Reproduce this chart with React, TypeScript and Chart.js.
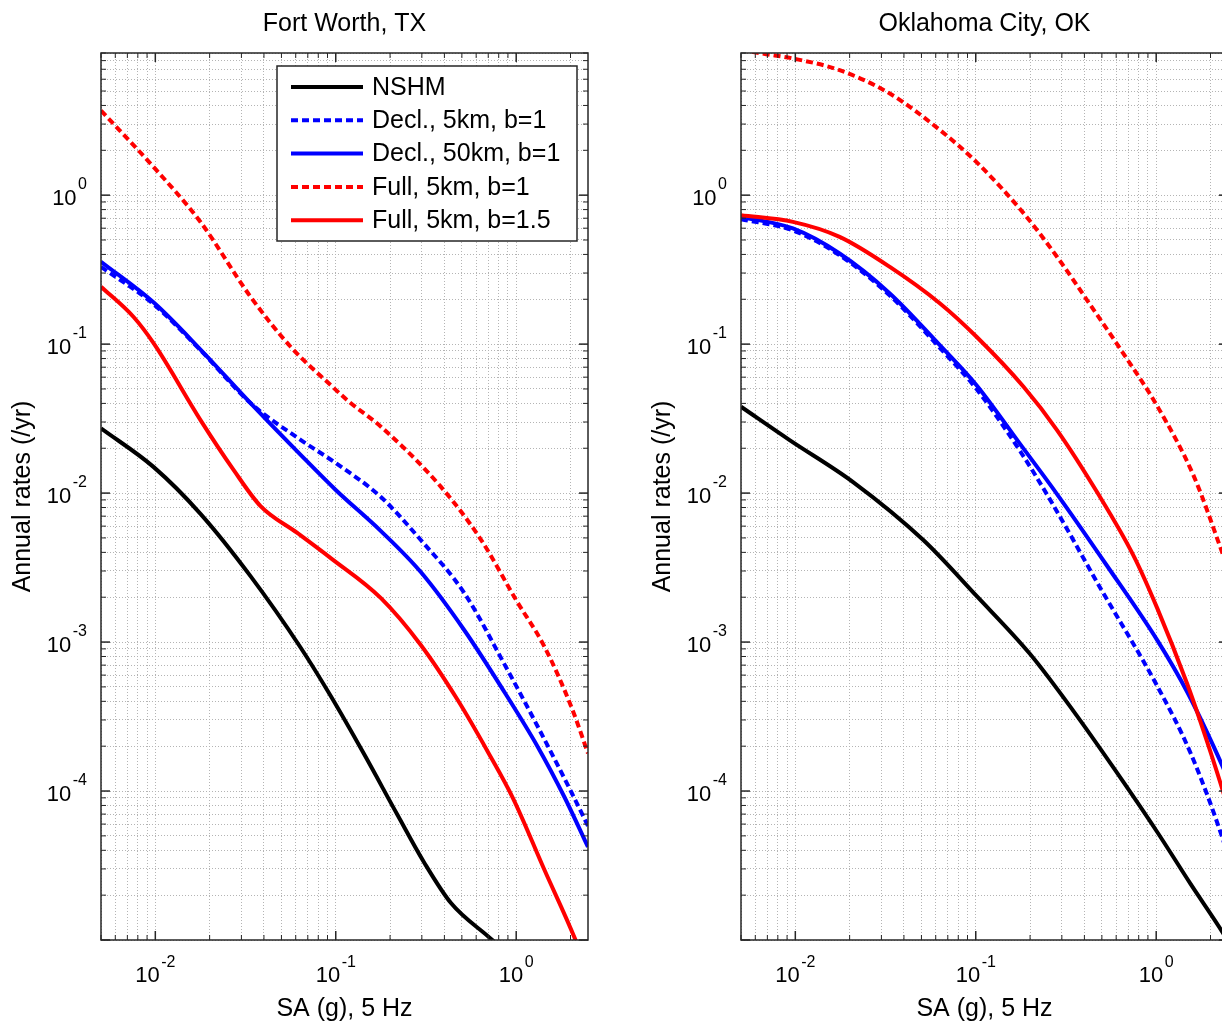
import React, { useEffect, useRef } from 'react';
import { Chart, registerables } from 'chart.js';

Chart.register(...registerables);

const FONT = "'Liberation Sans', Arial, Helvetica, sans-serif";

// ---- axes ----
const X_MIN = 0.005;
const X_MAX = 2.5;
const Y_MIN = 1e-5;
const Y_MAX = 9;
const X_LABEL_EXPONENTS = [-2, -1, 0];
const Y_LABEL_EXPONENTS = [-4, -3, -2, -1, 0];
const X_TITLE = 'SA (g), 5 Hz';
const Y_TITLE = 'Annual rates (/yr)';
const TITLES = ['Fort Worth, TX', 'Oklahoma City, OK'];
const SERIES_LABELS = ['NSHM', 'Decl., 5km, b=1', 'Decl., 50km, b=1', 'Full, 5km, b=1', 'Full, 5km, b=1.5'];

// ---- Fort Worth, TX ----
const fwNshmX = [0.005, 0.0098, 0.0178, 0.0337, 0.0641, 0.0938, 0.1435, 0.22, 0.31, 0.435, 0.697, 0.82];
const fwNshmY = [0.0272, 0.01494, 0.00726, 0.00277, 0.000912, 0.000434, 0.000177, 0.000069, 0.0000329, 0.0000177, 0.0000106, 0.00000897];
const fwDecl5X = [0.005, 0.0098, 0.0178, 0.0337, 0.0641, 0.1, 0.178, 0.296, 0.516, 0.86, 1.32, 2.02, 2.5];
const fwDecl5Y = [0.33, 0.185, 0.091, 0.0402, 0.0227, 0.0159, 0.0094, 0.00484, 0.00213, 0.000711, 0.000269, 0.0000985, 0.0000582];
const fwDecl50X = [0.005, 0.0098, 0.0178, 0.0337, 0.0641, 0.1, 0.178, 0.296, 0.516, 0.86, 1.32, 1.85, 2.5];
const fwDecl50Y = [0.357, 0.19, 0.092, 0.0402, 0.018, 0.0105, 0.00556, 0.00295, 0.0012, 0.000462, 0.000197, 0.0000912, 0.0000421];
const fwFull1X = [0.005, 0.01, 0.0178, 0.0337, 0.0562, 0.0938, 0.1186, 0.178, 0.383, 0.64, 1.0, 1.435, 2.02, 2.5];
const fwFull1Y = [3.7, 1.5, 0.66, 0.208, 0.096, 0.053, 0.041, 0.0279, 0.011, 0.00484, 0.00191, 0.00093, 0.000368, 0.000179];
const fwFull15X = [0.005, 0.00758, 0.0098, 0.0178, 0.0272, 0.0383, 0.0612, 0.0938, 0.178, 0.296, 0.474, 0.697, 0.959, 1.435, 2.11, 2.4];
const fwFull15Y = [0.243, 0.152, 0.101, 0.0309, 0.01426, 0.00818, 0.0054, 0.00366, 0.00197, 0.000955, 0.000408, 0.000183, 0.0000897, 0.0000295, 0.0000103, 0.0000068];

// ---- Oklahoma City, OK ----
const okNshmX = [0.005, 0.0093, 0.0209, 0.0512, 0.101, 0.2, 0.348, 0.581, 1.013, 1.55, 2.33, 2.5];
const okNshmY = [0.038, 0.0227, 0.01186, 0.00484, 0.00204, 0.000831, 0.000344, 0.000143, 0.0000531, 0.0000238, 0.0000113, 0.0000098];
const okDecl5X = [0.005, 0.0097, 0.0176, 0.0334, 0.0634, 0.101, 0.1763, 0.259, 0.491, 1.013, 1.55, 2.33, 2.5];
const okDecl5Y = [0.69, 0.58, 0.395, 0.212, 0.094, 0.0499, 0.0191, 0.00897, 0.0023, 0.000507, 0.00018, 0.0000484, 0.0000366];
const okDecl50X = [0.005, 0.0097, 0.0176, 0.0334, 0.0634, 0.101, 0.1763, 0.282, 0.535, 1.013, 1.486, 2.33, 2.5];
const okDecl50Y = [0.715, 0.598, 0.406, 0.219, 0.098, 0.053, 0.0213, 0.00985, 0.00324, 0.00103, 0.000462, 0.000147, 0.00012];
const okFull1X = [0.005, 0.0069, 0.0097, 0.0176, 0.0334, 0.0634, 0.101, 0.184, 0.282, 0.432, 0.661, 1.013, 1.62, 2.33, 2.5];
const okFull1Y = [9.4, 8.84, 8.27, 6.9, 4.81, 2.73, 1.665, 0.757, 0.386, 0.183, 0.0857, 0.0384, 0.0129, 0.00394, 0.0031];
const okFull15X = [0.005, 0.0097, 0.0176, 0.0334, 0.0634, 0.101, 0.184, 0.282, 0.47, 0.751, 1.013, 1.486, 1.762, 2.33, 2.5];
const okFull15Y = [0.734, 0.662, 0.525, 0.33, 0.1875, 0.112, 0.0517, 0.0265, 0.01016, 0.00378, 0.00169, 0.000523, 0.00029, 0.000102, 0.0000757];

const COLORS = ['#000000', '#0000ff', '#0000ff', '#ff0000', '#ff0000'];
const DASHED = [false, true, false, true, false];

const PANELS = [
  { xs: [fwNshmX, fwDecl5X, fwDecl50X, fwFull1X, fwFull15X], ys: [fwNshmY, fwDecl5Y, fwDecl50Y, fwFull1Y, fwFull15Y], legend: true },
  { xs: [okNshmX, okDecl5X, okDecl50X, okFull1X, okFull15X], ys: [okNshmY, okDecl5Y, okDecl50Y, okFull1Y, okFull15Y], legend: false },
];

function decadeTicks(lo: number, hi: number): number[] {
  const out: number[] = [];
  for (let e = Math.floor(Math.log10(lo)); e <= Math.ceil(Math.log10(hi)); e++) {
    for (let m = 1; m <= 9; m++) {
      const v = parseFloat((m * Math.pow(10, e)).toPrecision(6));
      if (v >= lo * 0.999999 && v <= hi * 1.000001) out.push(v);
    }
  }
  return out;
}
const X_TICKS = decadeTicks(X_MIN, X_MAX);
const Y_TICKS = decadeTicks(Y_MIN, Y_MAX);

function isDecade(v: number) {
  const l = Math.log10(v);
  return Math.abs(l - Math.round(l)) < 1e-6;
}

const BASE_FONT = `22px ${FONT}`;
const EXP_FONT = `16px ${FONT}`;

// MATLAB-like frame with inward ticks on all four sides
const framePlugin = {
  id: 'matlabFrame',
  afterDatasetsDraw(chart: any) {
    const { ctx, chartArea: a, scales } = chart;
    ctx.save();
    ctx.strokeStyle = '#262626';
    ctx.setLineDash([]);
    const seg = (x1: number, y1: number, x2: number, y2: number) => {
      ctx.beginPath();
      ctx.moveTo(x1, y1);
      ctx.lineTo(x2, y2);
      ctx.stroke();
    };
    X_TICKS.forEach((v) => {
      const x = scales.x.getPixelForValue(v);
      const L = isDecade(v) ? 9 : 5;
      ctx.lineWidth = isDecade(v) ? 1.5 : 1;
      seg(x, a.bottom, x, a.bottom - L);
      seg(x, a.top, x, a.top + L);
    });
    Y_TICKS.forEach((v) => {
      const y = scales.y.getPixelForValue(v);
      const L = isDecade(v) ? 9 : 5;
      ctx.lineWidth = isDecade(v) ? 1.5 : 1;
      seg(a.left, y, a.left + L, y);
      seg(a.right, y, a.right - L, y);
    });
    ctx.lineWidth = 1.5;
    ctx.strokeRect(a.left, a.top, a.right - a.left, a.bottom - a.top);
    ctx.restore();
  },
};

// "10" with a raised exponent, placed through the scales
const decadeLabelPlugin = {
  id: 'decadeLabels',
  afterDraw(chart: any) {
    const { ctx, chartArea: a, scales } = chart;
    ctx.save();
    ctx.fillStyle = '#000000';
    ctx.textBaseline = 'alphabetic';
    ctx.textAlign = 'left';
    X_LABEL_EXPONENTS.forEach((e) => {
      const x = scales.x.getPixelForValue(Math.pow(10, e));
      const exp = String(e);
      ctx.font = BASE_FONT;
      const wb = ctx.measureText('10').width;
      ctx.font = EXP_FONT;
      const we = ctx.measureText(exp).width;
      const x0 = x - (wb + 1.5 + we) / 2;
      ctx.font = BASE_FONT;
      ctx.fillText('10', x0, a.bottom + 42);
      ctx.font = EXP_FONT;
      ctx.fillText(exp, x0 + wb + 1.5, a.bottom + 27);
    });
    Y_LABEL_EXPONENTS.forEach((e) => {
      const y = scales.y.getPixelForValue(Math.pow(10, e));
      const exp = String(e);
      ctx.font = EXP_FONT;
      const we = ctx.measureText(exp).width;
      ctx.font = BASE_FONT;
      const wb = ctx.measureText('10').width;
      const right = a.left - 14;
      ctx.font = BASE_FONT;
      ctx.fillText('10', right - we - 1.5 - wb, y + 9.5);
      ctx.font = EXP_FONT;
      ctx.fillText(exp, right - we, y - 6.5);
    });
    ctx.restore();
  },
};

const legendPlugin = {
  id: 'boxLegend',
  afterDraw(chart: any) {
    const { ctx, chartArea: a } = chart;
    const bw = 300;
    const bh = 175;
    const bx = a.right - 311;
    const by = a.top + 13;
    ctx.save();
    ctx.fillStyle = '#ffffff';
    ctx.fillRect(bx, by, bw, bh);
    ctx.strokeStyle = '#262626';
    ctx.lineWidth = 1.5;
    ctx.setLineDash([]);
    ctx.strokeRect(bx, by, bw, bh);
    chart.data.datasets.forEach((ds: any, i: number) => {
      const y = by + 21 + i * 33.3;
      ctx.beginPath();
      ctx.setLineDash(ds.borderDash || []);
      ctx.strokeStyle = ds.borderColor;
      ctx.lineWidth = ds.borderWidth;
      ctx.moveTo(bx + 14, y);
      ctx.lineTo(bx + 86, y);
      ctx.stroke();
      ctx.setLineDash([]);
      ctx.fillStyle = '#000000';
      ctx.font = `25px ${FONT}`;
      ctx.textAlign = 'left';
      ctx.textBaseline = 'middle';
      ctx.fillText(ds.label, bx + 95, y + 1);
    });
    ctx.restore();
  },
};

function Panel({ index, left }: { index: number; left: number }) {
  const ref = useRef<HTMLCanvasElement>(null);
  useEffect(() => {
    const panel = PANELS[index];
    const datasets = SERIES_LABELS.map((label, i) => ({
      label,
      data: panel.xs[i].map((x, j) => ({ x, y: panel.ys[i][j] })),
      borderColor: COLORS[i],
      backgroundColor: COLORS[i],
      borderWidth: 4,
      borderDash: DASHED[i] ? [7, 4] : [],
      borderCapStyle: 'butt',
      pointRadius: 0,
      cubicInterpolationMode: 'monotone',
      fill: false,
      clip: 0,
      order: -i,
    }));
    const titleFont = { family: FONT, size: 25, weight: 'normal' as const };
    const chart = new Chart(ref.current as HTMLCanvasElement, {
      type: 'line',
      data: { datasets: datasets as any },
      options: {
        responsive: false,
        animation: false,
        devicePixelRatio: 1,
        layout: { padding: { left: 0, right: 52, top: 0, bottom: 0 } },
        plugins: {
          legend: { display: false },
          tooltip: { enabled: false },
          title: {
            display: true,
            fullSize: false,
            text: TITLES[index],
            color: '#000000',
            font: titleFont,
            padding: { top: 9, bottom: 14 },
          },
        },
        scales: {
          x: {
            type: 'logarithmic',
            min: X_MIN,
            max: X_MAX,
            afterBuildTicks: (s: any) => {
              s.ticks = X_TICKS.map((v) => ({ value: v }));
            },
            afterFit: (s: any) => {
              s.height = 84;
            },
            ticks: { display: false, autoSkip: false, maxRotation: 0, minRotation: 0 },
            grid: { color: '#b4b4b4', lineWidth: 1, drawTicks: false },
            border: { display: false, dash: [1, 2] },
            title: {
              display: true,
              text: X_TITLE,
              color: '#000000',
              font: titleFont,
              padding: { top: 0, bottom: 0 },
            },
          },
          y: {
            type: 'logarithmic',
            position: 'left',
            min: Y_MIN,
            max: Y_MAX,
            afterBuildTicks: (s: any) => {
              s.ticks = Y_TICKS.map((v) => ({ value: v }));
            },
            afterFit: (s: any) => {
              s.width = 101;
            },
            ticks: { display: false, autoSkip: false },
            grid: { color: '#b4b4b4', lineWidth: 1, drawTicks: false },
            border: { display: false, dash: [1, 2] },
            title: {
              display: true,
              text: Y_TITLE,
              color: '#000000',
              font: titleFont,
              padding: { top: 8, bottom: 0 },
            },
          },
        },
      } as any,
      plugins: panel.legend
        ? [framePlugin, decadeLabelPlugin, legendPlugin]
        : [framePlugin, decadeLabelPlugin],
    });
    return () => chart.destroy();
  }, [index]);
  return (
    <canvas
      ref={ref}
      width={640}
      height={1024}
      style={{ position: 'absolute', left, top: 0, width: 640, height: 1024 }}
    />
  );
}

export default function App() {
  return (
    <div
      style={{
        position: 'absolute',
        left: 0,
        top: 0,
        width: 1222,
        height: 1024,
        overflow: 'hidden',
        background: '#ffffff',
      }}
    >
      <Panel index={0} left={0} />
      <Panel index={1} left={640} />
    </div>
  );
}
